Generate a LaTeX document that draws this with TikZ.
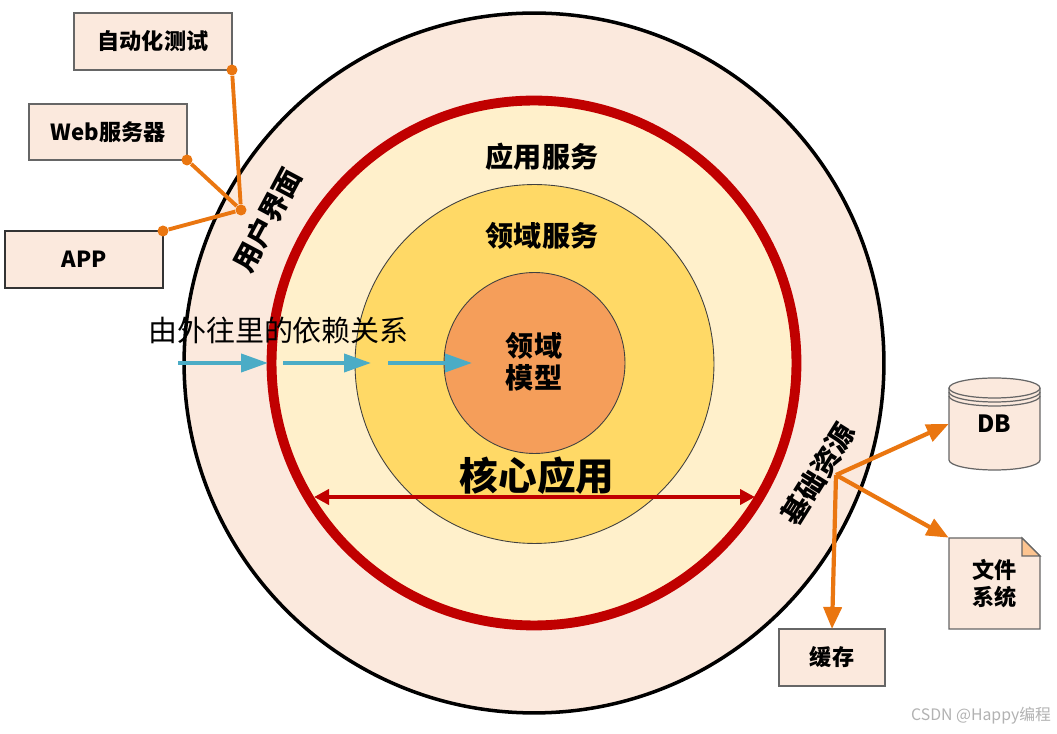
\documentclass[tikz,border=0pt]{standalone}
\usepackage{fontspec}
\setmainfont{Noto Sans CJK SC}
\usetikzlibrary{arrows.meta}
\definecolor{ringpeach}{HTML}{FBE9DD}
\definecolor{ringcream}{HTML}{FFF0CB}
\definecolor{ringgold}{HTML}{FFD966}
\definecolor{ringorange}{HTML}{F59E5A}
\definecolor{ringred}{HTML}{C00000}
\definecolor{linkorange}{HTML}{EA7610}
\definecolor{flowblue}{HTML}{4BACC6}
\tikzset{
  ring/.style={circle, draw=black!75, outer sep=0pt, inner sep=0pt},
  extbox/.style={draw=black!60, line width=0.7pt, fill=ringpeach, outer sep=0pt, inner sep=0pt},
  dotmark/.style={circle, fill=linkorange, minimum size=0.22cm, inner sep=0pt},
  linkline/.style={draw=linkorange, line width=2.2pt},
  linkarrow/.style={draw=linkorange, line width=2.4pt, -{Triangle[length=0.44cm, width=0.36cm]}},
  flowarrow/.style={draw=flowblue, line width=2.2pt, -{Triangle[length=0.54cm, width=0.36cm]}},
  boxlabel/.style={font=\bfseries\fontsize{12.6}{15.5}\selectfont, align=center},
  ringlabel/.style={font=\bfseries\fontsize{16}{18}\selectfont, align=center},
}
\begin{document}
\begin{tikzpicture}[x=0.02cm, y=0.02cm]
  \useasboundingbox[fill=white] (0, 0) rectangle (1057, 733);

  % Rings
  \node[ring, draw=black, fill=ringpeach, line width=2pt, minimum size=14cm] (outer) at (534, 370) {};
  \node[ring, draw=ringred, fill=ringcream, line width=5.6pt, minimum size=10.5cm] (core) at (534, 370) {};
  \node[ring, fill=ringgold, line width=0.5pt, minimum size=7.18cm] (service) at (534.5, 369) {};
  \node[ring, fill=ringorange, line width=0.5pt, minimum size=3.62cm] (model) at (534.5, 370) {};

  % Ring labels
  \node[ringlabel] (appservice) at (542, 576) {应用服务};
  \node[ringlabel] (domainservice) at (542, 497) {领域服务};
  \node[ringlabel] (domainmodel) at (534, 371) {领域\\模型};
  \node[font=\bfseries\fontsize{22}{24}\selectfont] (corelabel) at (537, 257) {核心应用};
  \node[ringlabel, rotate=62] (uilabel) at (267, 513) {用户界面};
  \node[ringlabel, rotate=58] (infralabel) at (818, 259) {基础资源};

  % Core width
  \coordinate (coreleft) at (314, 236);
  \coordinate (coreright) at (755, 236);
  \draw[draw=ringred, line width=2.2pt, {Triangle[length=0.3cm, width=0.3cm]}-{Triangle[length=0.3cm, width=0.3cm]}] (coreleft) -- (coreright);

  % Dependency direction
  \node[font=\fontsize{16.5}{19}\selectfont] (flowlabel) at (278.5, 403) {由外往里的依赖关系};
  \coordinate (flowa) at (178, 370);
  \coordinate (flowb) at (268, 370);
  \coordinate (flowc) at (283, 370);
  \coordinate (flowd) at (371, 370);
  \coordinate (flowe) at (388, 370);
  \coordinate (flowf) at (472, 370);
  \draw[flowarrow] (flowa) -- (flowb);
  \draw[flowarrow] (flowc) -- (flowd);
  \draw[flowarrow] (flowe) -- (flowf);

  % Clients
  \node[extbox, boxlabel, minimum width=3.16cm, minimum height=1.14cm] (test) at (153, 691.5) {自动化测试};
  \node[extbox, boxlabel, minimum width=3.16cm, minimum height=1.12cm] (web) at (108, 601) {Web服务器};
  \node[extbox, boxlabel, draw=black!80, minimum width=3.16cm, minimum height=1.14cm] (app) at (84, 473.5) {APP};
  \node[dotmark] (testdot) at (test.south east) {};
  \node[dotmark] (webdot) at (web.south east) {};
  \node[dotmark] (appdot) at (app.north east) {};
  \node[dotmark] (clienthub) at (241, 523) {};
  \draw[linkline] (testdot) -- (clienthub);
  \draw[linkline] (webdot) -- (clienthub);
  \draw[linkline] (appdot) -- (clienthub);

  % Resources
  \draw[extbox] (949, 345) -- (949, 273) arc[start angle=180, end angle=360, x radius=45.5, y radius=10]
    -- (1040, 345) arc[start angle=0, end angle=180, x radius=45.5, y radius=10] -- cycle;
  \draw[extbox, fill=none] (949, 345) arc[start angle=180, end angle=360, x radius=45.5, y radius=10];
  \draw[extbox, fill=none] (949, 341) arc[start angle=180, end angle=360, x radius=45.5, y radius=10];
  \draw[extbox, fill=none] (949, 337) arc[start angle=180, end angle=360, x radius=45.5, y radius=10];
  \node[boxlabel, font=\bfseries\fontsize{13.5}{16}\selectfont, minimum width=1.82cm, minimum height=1.84cm] (db) at (994.5, 309) {DB};
  \draw[extbox] (949, 195) -- (1022, 195) -- (1040, 177) -- (1040, 104) -- (949, 104) -- cycle;
  \draw[extbox, fill=orange!35!ringpeach] (1022, 195) -- (1040, 177) -- (1022, 177) -- cycle;
  \node[boxlabel, minimum width=1.82cm, minimum height=1.82cm] (file) at (994.5, 149.5) {文件\\系统};
  \node[extbox, boxlabel, minimum width=2.12cm, minimum height=1.14cm] (cache) at (832, 75.5) {缓存};
  \coordinate (reshub) at (836, 258);
  \draw[linkarrow] (reshub) -- (db.west);
  \draw[linkarrow] (reshub) -- (file.north west);
  \draw[linkarrow] (reshub) -- (cache.north);

  % Watermark
  \node[text=black!30, font=\fontsize{9}{11}\selectfont] (mark) at (981, 17) {CSDN @Happy编程};
\end{tikzpicture}
\end{document}
